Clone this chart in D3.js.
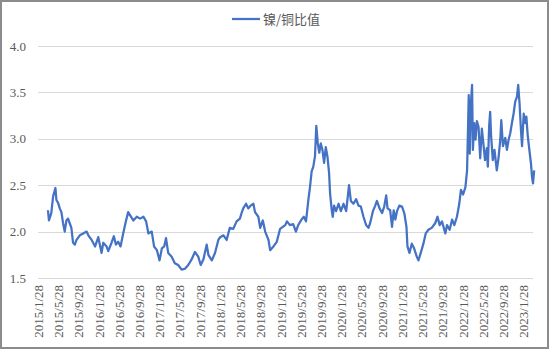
<!DOCTYPE html>
<html lang="zh">
    <head>
        <meta charset="utf-8">
        <title>镍/铜比值</title>
        <script type="text/javascript" src="https://cdn.jsdelivr.net/npm/d3@7"></script>
        <style type="text/css">
            html, body { margin: 0; padding: 0; background: white; }
            svg { display: block; }
        </style>
    </head>
    <body>
        <script type="text/javascript">

            // data
            let seriesName = "镍/铜比值";

            let dates = [
                "2015-03-29","2015-04-04","2015-04-18","2015-04-29","2015-05-13","2015-05-19","2015-05-29","2015-06-08",
                "2015-06-18","2015-06-28","2015-07-08","2015-07-18","2015-07-28","2015-08-07","2015-08-17","2015-08-27",
                "2015-09-07","2015-09-17","2015-10-07","2015-10-27","2015-11-17","2015-11-27","2015-12-17","2016-01-07",
                "2016-01-26","2016-02-15","2016-02-25","2016-03-16","2016-03-26","2016-04-15","2016-04-29","2016-05-11",
                "2016-05-25","2016-06-08","2016-06-24","2016-07-10","2016-07-24","2016-08-03","2016-08-24","2016-09-14",
                "2016-10-04","2016-10-24","2016-11-09","2016-11-23","2016-12-13","2016-12-27","2017-01-13","2017-01-29",
                "2017-02-12","2017-02-26","2017-03-09","2017-03-22","2017-04-12","2017-05-01","2017-05-21","2017-06-11",
                "2017-07-01","2017-07-21","2017-08-10","2017-08-30","2017-09-19","2017-10-04","2017-10-20","2017-11-09",
                "2017-11-19","2017-12-10","2017-12-29","2018-01-18","2018-01-29","2018-02-18","2018-03-09","2018-03-28",
                "2018-04-18","2018-05-08","2018-05-28","2018-06-07","2018-06-17","2018-07-04","2018-07-17","2018-08-01",
                "2018-08-17","2018-08-27","2018-09-16","2018-09-27","2018-10-13","2018-10-27","2018-11-16","2018-11-26",
                "2018-12-16","2019-01-05","2019-01-25","2019-02-25","2019-03-07","2019-03-25","2019-04-14","2019-04-30",
                "2019-05-14","2019-06-03","2019-06-17","2019-06-30","2019-07-14","2019-07-24","2019-08-03","2019-08-13",
                "2019-08-23","2019-08-31","2019-09-09","2019-09-18","2019-09-27","2019-10-07","2019-10-17","2019-10-27",
                "2019-11-06","2019-11-16","2019-11-22","2019-12-02","2019-12-08","2019-12-16","2019-12-28","2020-01-12",
                "2020-01-26","2020-02-11","2020-02-27","2020-03-15","2020-03-26","2020-04-11","2020-04-27","2020-05-11",
                "2020-05-25","2020-06-10","2020-06-26","2020-07-10","2020-07-20","2020-08-06","2020-08-20","2020-08-30",
                "2020-09-15","2020-09-30","2020-10-13","2020-10-25","2020-11-02","2020-11-18","2020-11-29","2020-12-09",
                "2020-12-19","2020-12-29","2021-01-12","2021-01-28","2021-02-11","2021-02-24","2021-03-02","2021-03-14",
                "2021-03-28","2021-04-11","2021-04-27","2021-05-07","2021-05-21","2021-06-06","2021-06-20","2021-07-06",
                "2021-07-26","2021-08-16","2021-08-30","2021-09-12","2021-09-26","2021-10-16","2021-10-26","2021-11-11",
                "2021-11-26","2021-12-09","2021-12-25","2022-01-08","2022-01-18","2022-01-31","2022-02-14","2022-02-24",
                "2022-03-06","2022-03-12","2022-03-20","2022-03-26","2022-03-31","2022-04-08","2022-04-16","2022-04-24",
                "2022-05-04","2022-05-14","2022-05-24","2022-06-02","2022-06-12","2022-06-23","2022-06-29","2022-07-07",
                "2022-07-13","2022-07-19","2022-07-29","2022-08-08","2022-08-22","2022-09-01","2022-09-12","2022-09-18",
                "2022-09-28","2022-10-12","2022-10-22","2022-11-01","2022-11-11","2022-11-21","2022-12-01","2022-12-11",
                "2022-12-21","2022-12-29","2023-01-06","2023-01-15","2023-01-21","2023-01-31","2023-02-10","2023-02-16",
                "2023-02-24","2023-03-06","2023-03-16","2023-03-22","2023-03-28","2023-04-04"
            ];

            let ratio = [
                2.23,2.12,2.20,2.38,2.47,2.34,2.31,2.25,
                2.21,2.09,2.00,2.12,2.14,2.09,2.04,1.88,
                1.86,1.91,1.96,1.98,2.00,1.96,1.91,1.84,
                1.94,1.77,1.88,1.84,1.79,1.88,1.95,1.86,
                1.89,1.84,1.98,2.11,2.21,2.18,2.12,2.16,
                2.14,2.16,2.11,1.98,2.00,1.84,1.80,1.69,
                1.82,1.84,1.93,1.77,1.73,1.66,1.64,1.59,
                1.60,1.64,1.70,1.78,1.73,1.64,1.70,1.86,
                1.75,1.69,1.77,1.91,1.94,1.96,1.91,2.04,
                2.03,2.11,2.14,2.20,2.25,2.30,2.25,2.28,
                2.30,2.21,2.16,2.04,2.12,2.00,1.91,1.80,
                1.84,1.89,2.03,2.07,2.11,2.07,2.08,2.00,
                2.07,2.13,2.16,2.11,2.34,2.48,2.65,2.70,
                2.81,3.14,2.95,2.85,2.95,2.88,2.74,2.91,
                2.81,2.63,2.41,2.23,2.16,2.28,2.22,2.30,
                2.22,2.30,2.22,2.50,2.33,2.30,2.35,2.28,
                2.27,2.16,2.07,2.04,2.09,2.22,2.28,2.33,
                2.25,2.20,2.27,2.39,2.25,2.23,2.05,2.23,
                2.13,2.22,2.28,2.27,2.20,2.05,1.84,1.77,
                1.87,1.82,1.73,1.69,1.77,1.87,1.98,2.02,
                2.04,2.09,2.16,2.07,2.11,1.98,2.07,2.02,
                2.13,2.07,2.16,2.30,2.45,2.40,2.48,2.66,
                3.47,2.84,3.41,3.58,2.88,3.17,2.99,3.19,
                3.13,2.79,3.11,2.95,2.77,2.90,2.70,3.14,
                3.29,3.02,2.77,2.88,2.66,2.79,2.99,3.20,
                2.92,3.01,2.88,2.99,3.06,3.17,3.27,3.40,
                3.45,3.58,3.38,3.08,2.92,3.27,3.17,3.24,
                3.04,2.88,2.73,2.59,2.52,2.66
            ];

            let tickLabels = [
                "2015/1/28","2015/5/28","2015/9/28","2016/1/28","2016/5/28","2016/9/28",
                "2017/1/28","2017/5/28","2017/9/28","2018/1/28","2018/5/28","2018/9/28",
                "2019/1/28","2019/5/28","2019/9/28","2020/1/28","2020/5/28","2020/9/28",
                "2021/1/28","2021/5/28","2021/9/28","2022/1/28","2022/5/28","2022/9/28",
                "2023/1/28"
            ];

            let yTicks = [1.5, 2.0, 2.5, 3.0, 3.5, 4.0];
            let xStart = "2015/1/28";
            let xEnd = "2023/3/28";

            // canvas
            let w = 550;
            let h = 351;
            let plotLeft = 38, plotRight = 533, plotTop = 46, plotBottom = 278;

            let parseIso = d3.timeParse("%Y-%m-%d");
            let parseSlash = d3.timeParse("%Y/%m/%d");

            let points = dates.map((d, i) => ({ date: parseIso(d), v: ratio[i] }));

            let svg = d3.select("body")
                .append("svg")
                .attr("width", w)
                .attr("height", h);

            svg.append("rect")
                .attr("x", 1)
                .attr("y", 1)
                .attr("width", w - 3)
                .attr("height", h - 4)
                .attr("fill", "white")
                .attr("stroke", "#8c8c8c")
                .attr("stroke-width", 2);

            let xScale = d3.scaleTime()
                .domain([parseSlash(xStart), parseSlash(xEnd)])
                .range([plotLeft, plotRight]);

            let yScale = d3.scaleLinear()
                .domain([1.5, 4.0])
                .range([plotBottom, plotTop]);

            // gridlines
            svg.append("g")
                .selectAll("line")
                .data(yTicks)
                .enter()
                .append("line")
                .attr("x1", plotLeft)
                .attr("x2", plotRight)
                .attr("y1", (d) => Math.round(yScale(d)) + 0.5)
                .attr("y2", (d) => Math.round(yScale(d)) + 0.5)
                .attr("stroke", "#d9d9d9")
                .attr("stroke-width", 1);

            // y axis labels
            let yAxis = d3.axisLeft(yScale)
                .tickValues(yTicks)
                .tickFormat(d3.format(".1f"))
                .tickSize(0)
                .tickPadding(12);

            let yax = svg.append("g")
                .attr("transform", "translate(" + plotLeft + ",0)")
                .call(yAxis);
            yax.select(".domain").remove();
            yax.selectAll("text")
                .attr("font-family", "Liberation Serif, serif")
                .attr("font-size", "13px")
                .attr("fill", "#595959");

            // x axis labels
            let xAxis = d3.axisBottom(xScale)
                .tickValues(tickLabels.map((t) => parseSlash(t)))
                .tickFormat(d3.timeFormat("%Y/%-m/%-d"))
                .tickSize(0);

            let xax = svg.append("g")
                .attr("transform", "translate(0," + plotBottom + ")")
                .call(xAxis);
            xax.select(".domain").remove();
            xax.selectAll("text")
                .attr("transform", "rotate(-90)")
                .attr("x", -7)
                .attr("y", 0)
                .attr("dy", "0.35em")
                .attr("text-anchor", "end")
                .attr("font-family", "Liberation Serif, serif")
                .attr("font-size", "13px")
                .attr("fill", "#595959");

            // the series
            let line = d3.line()
                .x((d) => xScale(d.date))
                .y((d) => yScale(d.v));

            svg.append("path")
                .datum(points)
                .attr("d", line)
                .attr("fill", "none")
                .attr("stroke", "#4472c4")
                .attr("stroke-width", 2.25)
                .attr("stroke-linejoin", "round");

            // legend
            let legend = svg.append("g").attr("transform", "translate(232,19)");
            legend.append("line")
                .attr("x1", 0)
                .attr("x2", 28)
                .attr("y1", 0)
                .attr("y2", 0)
                .attr("stroke", "#4472c4")
                .attr("stroke-width", 2.25);
            legend.append("text")
                .attr("x", 31)
                .attr("y", 0)
                .attr("dy", "0.35em")
                .attr("font-family", "Noto Sans CJK SC, sans-serif")
                .attr("font-size", "13px")
                .attr("fill", "#595959")
                .text(seriesName);

        </script>
    </body>
</html>
